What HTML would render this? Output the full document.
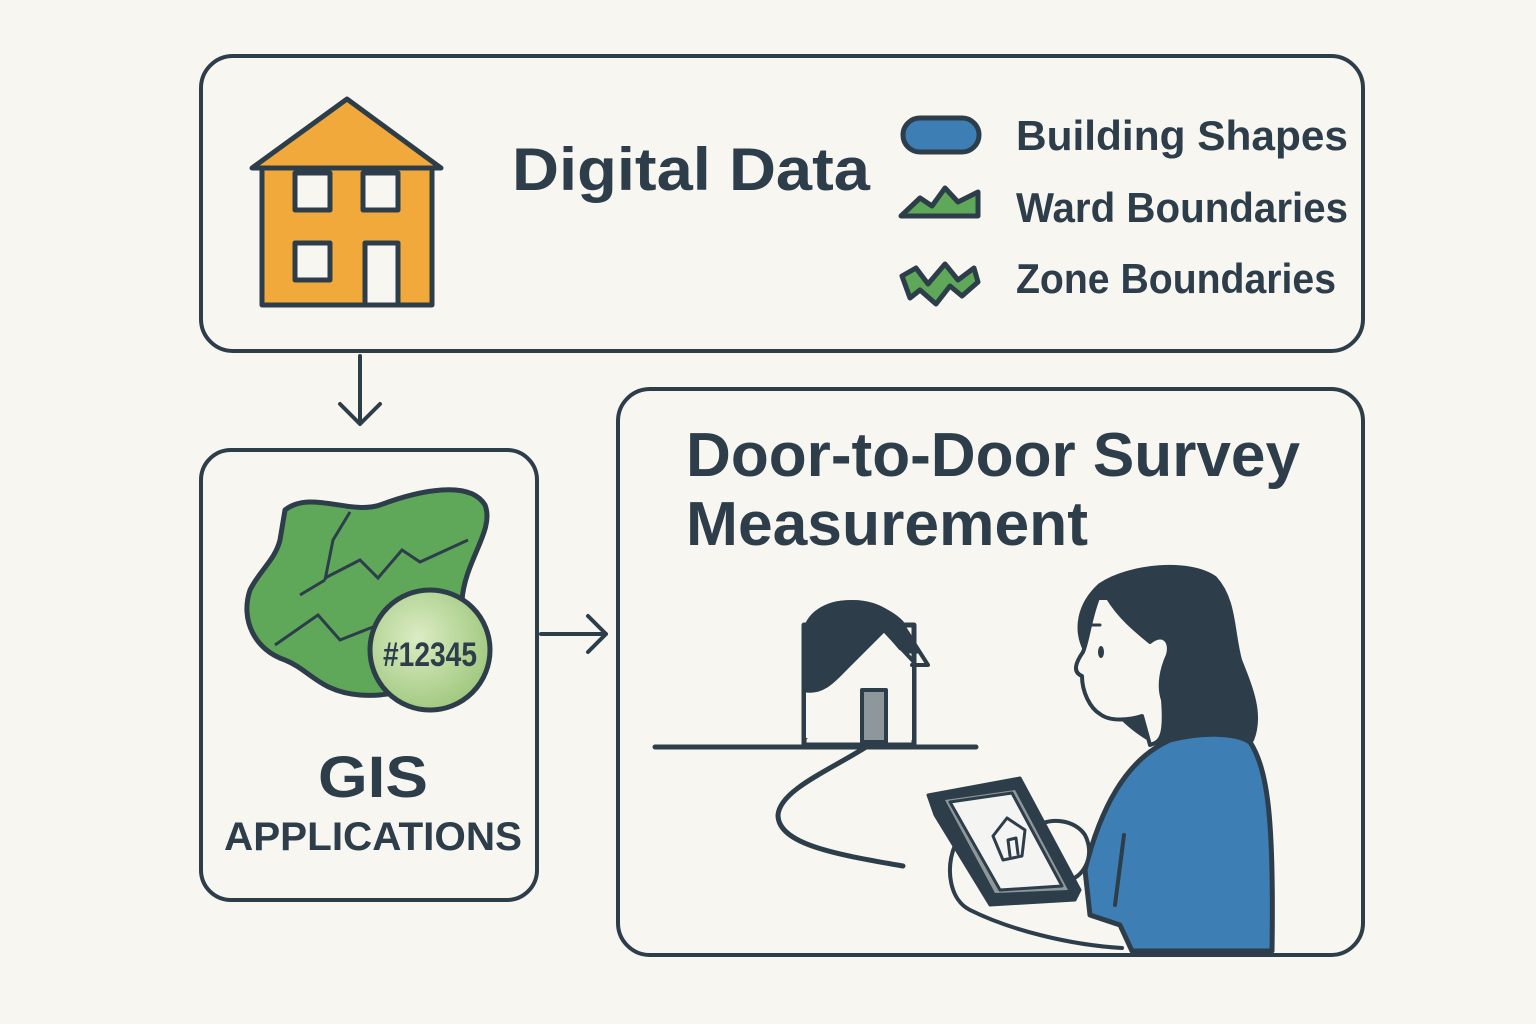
<!DOCTYPE html>
<html><head><meta charset="utf-8"><style>
html,body{margin:0;padding:0;background:#f7f6f1;}
svg{display:block}
text{font-family:"Liberation Sans",sans-serif;font-weight:bold;fill:#2d3e4a}
</style></head><body>
<svg width="1536" height="1024" viewBox="0 0 1536 1024" xmlns="http://www.w3.org/2000/svg">
<rect width="1536" height="1024" fill="#f7f6f1"/>
<g fill="none" stroke="#2d3e4a" stroke-width="4" stroke-linecap="round" stroke-linejoin="round">
<rect x="201" y="56" width="1162" height="295" rx="32"/>
<rect x="201" y="450" width="336" height="450" rx="30"/>
<rect x="618" y="389" width="745" height="566" rx="32"/>
<path d="M360 356 V424 M340 404 L360 424 L380 404"/>
<path d="M541 634 H606 M588 616 L606 634 L588 652"/>
</g>
<g stroke="#2d3e4a" stroke-width="5" stroke-linejoin="round">
<path d="M262 168 H432 V305 H262 Z" fill="#f2a93b"/>
<path d="M252 168 L347 99 L441 168 Z" fill="#f2a93b"/>
<rect x="295" y="173" width="35" height="37" fill="#f7f6f1"/>
<rect x="363" y="173" width="35" height="37" fill="#f7f6f1"/>
<rect x="295" y="243" width="35" height="37" fill="#f7f6f1"/>
<rect x="365" y="243" width="33" height="62" fill="#f7f6f1"/>
</g>
<text x="512" y="190" font-size="60" textLength="358" lengthAdjust="spacingAndGlyphs">Digital Data</text>
<rect x="903" y="118" width="76" height="34" rx="17" fill="#3d7fb5" stroke="#2d3e4a" stroke-width="5"/>
<path d="M901 216 L920 198 L932 206 L945 188 L958 202 L978 192 L978 216 Z" fill="#5fa85a" stroke="#2d3e4a" stroke-width="5" stroke-linejoin="round"/>
<path d="M902 276 L916 268 L928 284 L945 264 L958 280 L974 268 L978 282 L962 296 L950 286 L936 304 L920 290 L910 298 Z" fill="#5fa85a" stroke="#2d3e4a" stroke-width="5" stroke-linejoin="round"/>
<text x="1016" y="150" font-size="42" textLength="332" lengthAdjust="spacingAndGlyphs">Building Shapes</text>
<text x="1016" y="222" font-size="42" textLength="332" lengthAdjust="spacingAndGlyphs">Ward Boundaries</text>
<text x="1016" y="293" font-size="42" textLength="320" lengthAdjust="spacingAndGlyphs">Zone Boundaries</text>
<path d="M285 510 C310 490 350 515 380 505 C420 490 470 480 485 505 C495 530 465 560 462 600 C460 650 430 700 360 695 C320 692 310 670 285 660 C255 650 240 620 250 590 C260 570 275 560 280 540 Z" fill="#5fa85a" stroke="#2d3e4a" stroke-width="5" stroke-linejoin="round"/>
<path d="M350 512 L333 540 L325 580 M325 580 L300 595 M325 578 L360 560 L378 578 L402 550 L420 562 L468 540 M275 645 L318 615 L340 640 L378 625" fill="none" stroke="#2d3e4a" stroke-width="3"/>
<defs><radialGradient id="g" cx="0.4" cy="0.4" r="0.6"><stop offset="0" stop-color="#dcecc4"/><stop offset="1" stop-color="#a3ca82"/></radialGradient></defs>
<circle cx="430" cy="650" r="60" fill="url(#g)" stroke="#2d3e4a" stroke-width="5"/>
<text x="383" y="666" font-size="34" textLength="94" lengthAdjust="spacingAndGlyphs">#12345</text>
<text x="318" y="797" font-size="58" textLength="110" lengthAdjust="spacingAndGlyphs">GIS</text>
<text x="224" y="850" font-size="40" textLength="298" lengthAdjust="spacingAndGlyphs">APPLICATIONS</text>
<text x="686" y="476" font-size="62" textLength="614" lengthAdjust="spacingAndGlyphs">Door-to-Door Survey</text>
<text x="686" y="545" font-size="62" textLength="402" lengthAdjust="spacingAndGlyphs">Measurement</text>
<g stroke="#2d3e4a" stroke-linejoin="round" stroke-linecap="round">
<rect x="804" y="625" width="110" height="120" fill="#f7f6f1" stroke-width="5"/>
<path d="M806 738 V640 C806 610 830 600 855 602 C880 604 895 615 902 622 L918 652 L906 652 C890 640 880 655 870 665 C855 680 830 692 806 738 Z" fill="#2d3e4a" stroke-width="3"/>
<path d="M806 738 V690 C820 692 840 680 855 660 L884 632 L912 665 V740 Z" fill="#f7f6f1" stroke="none"/>
<path d="M804 740 V690 C825 695 838 675 852 662 L884 630 L914 662 V745" fill="none" stroke-width="4"/>
<path d="M804 640 C804 612 828 602 853 602 C878 602 898 615 912 640 L928 665 L912 665" fill="none" stroke-width="4"/>
<rect x="862" y="690" width="24" height="52" fill="#8e979b" stroke-width="4"/>
<path d="M655 747 H976" fill="none" stroke-width="5"/>
<path d="M866 747 C830 770 780 790 778 815 C778 845 840 855 903 866" fill="none" stroke-width="5"/>
<!-- person -->
<path d="M1160 745 C1190 748 1230 742 1252 740 C1262 715 1252 690 1240 660 C1232 630 1235 600 1215 578 C1190 560 1130 565 1100 585 C1078 605 1075 630 1085 650 C1092 690 1120 725 1160 745 Z" fill="#2d3e4a" stroke="#2d3e4a" stroke-width="4"/>
<path d="M1098 598 C1090 618 1088 640 1083 652 C1076 662 1072 672 1082 676 C1082 692 1090 708 1100 714 C1110 722 1130 720 1142 716 L1150 745 C1160 742 1166 738 1163 700 C1158 685 1162 668 1168 655 C1172 640 1162 632 1150 642 C1138 632 1120 618 1108 598 Z" fill="#f7f6f1" stroke-width="4"/>
<ellipse cx="1101" cy="652" rx="3" ry="6" fill="#2d3e4a" stroke="none"/>
<path d="M1092 625 H1100" stroke-width="3"/>
<path d="M1132 951 L1120 925 L1090 915 L1085 870 C1100 810 1125 760 1170 740 C1200 732 1235 732 1250 742 C1268 770 1274 820 1272 951 Z" fill="#3d7fb5" stroke-width="5"/>
<path d="M1115 905 L1124 835" fill="none" stroke-width="4"/>
<path d="M955 845 C945 870 950 900 970 910 C1010 930 1070 945 1122 948" fill="#f7f6f1" stroke-width="4"/>
<path d="M1030 830 C1050 815 1075 820 1085 835 C1095 855 1085 875 1070 880 L1040 870 Z" fill="#f7f6f1" stroke-width="4"/>
<path d="M928 795 L1020 778 L1080 890 L1075 900 L990 905 L935 815 Z" fill="#2d3e4a" stroke-width="3"/>
<path d="M945 800 L1015 790 L1068 890 L995 893 Z" fill="#8e979b" stroke="none"/>
<path d="M950 802 L1012 793 L1062 886 L1000 890 Z" fill="#f4f4f2" stroke-width="3"/>
<path d="M993 836 L1007 818 L1025 830 L1022 856 L1003 860 Z M1010 856 L1008 840 L1016 838 L1018 854" fill="none" stroke-width="3"/>
</g>
</svg>
</body></html>
